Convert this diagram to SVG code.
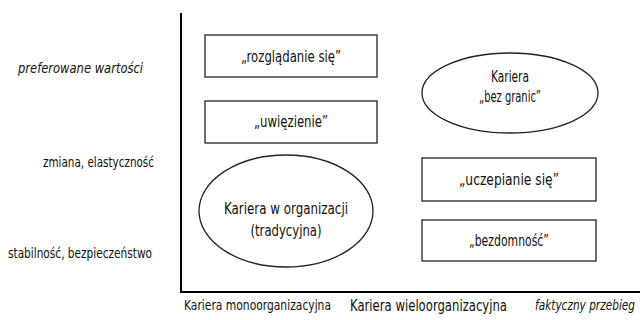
<svg xmlns="http://www.w3.org/2000/svg" width="640" height="320" viewBox="0 0 640 320">
<style>
text{font-family:"Liberation Sans Narrow","DejaVu Sans Condensed","Liberation Sans",sans-serif;fill:#111;}
.c{text-anchor:middle;font-size:15px;}
.e{text-anchor:middle;font-size:16px;}
.l{font-size:14px;}
.i{font-style:italic;}
.box{fill:#fff;stroke:#222;stroke-width:1.3;}
.ax{stroke:#000;stroke-width:2;fill:none;}
</style>
<rect width="640" height="320" fill="#fff"/>
<g id="axes">
<path class="ax" d="M181,13 V292 H640"/>
</g>
<g id="labels">
<text class="l i" x="18" y="73" textLength="125" lengthAdjust="spacingAndGlyphs">preferowane wartości</text>
<text class="l" x="43" y="167" textLength="111" lengthAdjust="spacingAndGlyphs">zmiana, elastyczność</text>
<text class="l" x="8" y="258" textLength="144" lengthAdjust="spacingAndGlyphs">stabilność, bezpieczeństwo</text>
<text class="l" x="184" y="310" textLength="147" lengthAdjust="spacingAndGlyphs">Kariera monoorganizacyjna</text>
<text class="l" style="font-size:15px" x="350" y="311" textLength="157" lengthAdjust="spacingAndGlyphs">Kariera wieloorganizacyjna</text>
<text class="l i" style="font-size:14px;text-anchor:end" x="635" y="310" textLength="100" lengthAdjust="spacingAndGlyphs">faktyczny przebieg</text>
</g>
<g id="n1">
<rect class="box" x="205" y="35" width="172" height="42"/>
<text class="c" x="291" y="62" textLength="100" lengthAdjust="spacingAndGlyphs">„rozglądanie się”</text>
</g>
<g id="n2">
<rect class="box" x="205" y="101" width="172" height="42"/>
<text class="c" x="291" y="127" textLength="74" lengthAdjust="spacingAndGlyphs">„uwięzienie”</text>
</g>
<g id="n3">
<ellipse class="box" cx="286" cy="211" rx="87" ry="56"/>
<text class="e" x="286" y="214" textLength="124" lengthAdjust="spacingAndGlyphs">Kariera w organizacji</text>
<text class="e" x="286" y="236" textLength="71" lengthAdjust="spacingAndGlyphs">(tradycyjna)</text>
</g>
<g id="n4">
<ellipse class="box" cx="510" cy="93" rx="88" ry="40"/>
<text class="e" x="510" y="82" textLength="38" lengthAdjust="spacingAndGlyphs">Kariera</text>
<text class="e" x="510" y="102" textLength="62" lengthAdjust="spacingAndGlyphs">„bez granic”</text>
</g>
<g id="n5">
<rect class="box" x="422" y="158" width="174" height="43"/>
<text class="c" x="509" y="185" textLength="100" lengthAdjust="spacingAndGlyphs">„uczepianie się”</text>
</g>
<g id="n6">
<rect class="box" x="422" y="220" width="174" height="41"/>
<text class="c" x="509" y="246" textLength="80" lengthAdjust="spacingAndGlyphs">„bezdomność”</text>
</g>
<g id="connectors"></g>
</svg>
